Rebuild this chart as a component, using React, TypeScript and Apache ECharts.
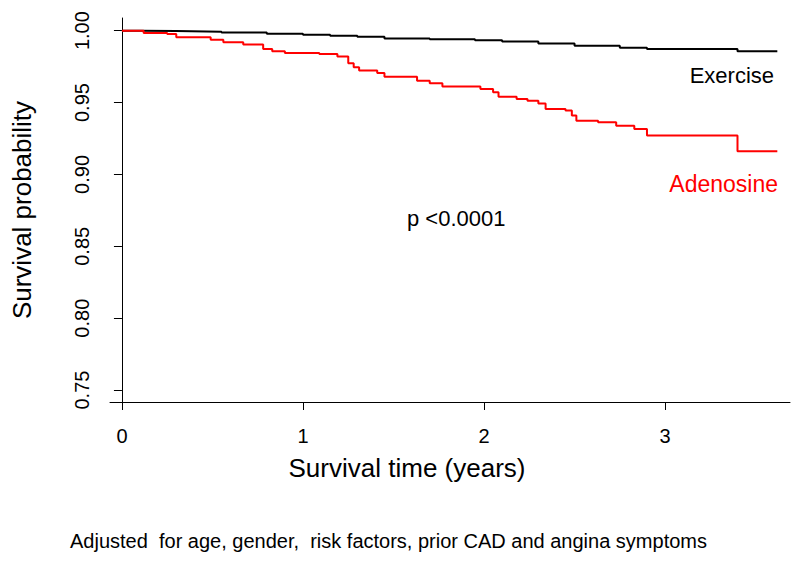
import React, { useEffect, useRef } from "react";
import * as echarts from "echarts";

const xTickValues = [0, 1, 2, 3];
const yTickValues = [0.75, 0.8, 0.85, 0.9, 0.95, 1.0];

const exerciseTime = [0, 0.1, 0.3, 0.55, 0.8, 1.0, 1.15, 1.3, 1.45, 1.7, 1.95, 2.1, 2.3, 2.5, 2.75, 2.9, 3.4, 3.62];
const exerciseSurv = [1.0, 0.9997, 0.9993, 0.9987, 0.9978, 0.9972, 0.9965, 0.9957, 0.9945, 0.994, 0.9934, 0.9924, 0.991, 0.9895, 0.9881, 0.9873, 0.9856, 0.9856];

const adenosineTime = [0, 0.12, 0.25, 0.3, 0.49, 0.56, 0.67, 0.78, 0.83, 0.9, 1.09, 1.19, 1.25, 1.28, 1.31, 1.41, 1.45, 1.63, 1.7, 1.77, 1.98, 2.05, 2.08, 2.18, 2.24, 2.3, 2.34, 2.45, 2.485, 2.51, 2.63, 2.73, 2.83, 2.9, 3.4, 3.62];
const adenosineSurv = [1.0, 0.9984, 0.9977, 0.9954, 0.9937, 0.9919, 0.9903, 0.9873, 0.9856, 0.9845, 0.9838, 0.9821, 0.9773, 0.9745, 0.9722, 0.9706, 0.968, 0.9652, 0.9634, 0.9611, 0.9594, 0.9571, 0.9541, 0.9525, 0.9513, 0.9494, 0.9455, 0.9444, 0.9409, 0.9374, 0.9362, 0.9339, 0.9316, 0.927, 0.9161, 0.9161];

const xTitle = "Survival time (years)";
const yTitle = "Survival probability";
const pText = "p <0.0001";
const footnote = "Adjusted  for age, gender,  risk factors, prior CAD and angina symptoms";

const FONT = '"Liberation Sans", Arial, sans-serif';

export default function App() {
  const ref = useRef<HTMLDivElement>(null);
  useEffect(() => {
    if (!ref.current) return;
    const chart = echarts.init(ref.current, null, { renderer: "svg" });
    const zip = (t: number[], v: number[]) => t.map((x, i) => [x, v[i]]);
    chart.setOption({
      animation: false,
      backgroundColor: "#ffffff",
      textStyle: { fontFamily: FONT },
      grid: { left: 110, right: 10, top: 18, bottom: 159, containLabel: false },
      xAxis: {
        type: "value",
        min: -0.066,
        max: 3.69,
        axisLine: { show: true, lineStyle: { color: "#000", width: 1 } },
        axisTick: { show: true, length: 8, inside: false, customValues: xTickValues, lineStyle: { color: "#000" } },
        axisLabel: { show: true, customValues: xTickValues, fontSize: 20, margin: 24, color: "#000", fontFamily: FONT },
        splitLine: { show: false },
      },
      yAxis: {
        type: "value",
        min: 0.7417,
        max: 1.0088,
        axisLine: { show: true, lineStyle: { color: "#000", width: 1 } },
        axisTick: { show: true, length: 8, inside: false, customValues: yTickValues, lineStyle: { color: "#000" } },
        axisLabel: {
          show: true,
          customValues: yTickValues,
          rotate: 90,
          fontSize: 20,
          margin: 18,
          color: "#000",
          fontFamily: FONT,
          formatter: (v: number) => v.toFixed(2),
        },
        splitLine: { show: false },
      },
      series: [
        {
          name: "Exercise",
          type: "line",
          step: "end",
          showSymbol: false,
          data: zip(exerciseTime, exerciseSurv),
          lineStyle: { color: "#000000", width: 2 },
          itemStyle: { color: "#000000" },
          z: 2,
        },
        {
          name: "Adenosine",
          type: "line",
          step: "end",
          showSymbol: false,
          data: zip(adenosineTime, adenosineSurv),
          lineStyle: { color: "#ff0000", width: 2 },
          itemStyle: { color: "#ff0000" },
          z: 3,
        },
      ],
      graphic: [
        { type: "text", x: 774, y: 75, style: { text: "Exercise", fontSize: 22, fontFamily: FONT, fill: "#000", align: "right", verticalAlign: "middle" } },
        { type: "text", x: 778, y: 184, style: { text: "Adenosine", fontSize: 23, fontFamily: FONT, fill: "#ff0000", align: "right", verticalAlign: "middle" } },
        { type: "text", x: 407, y: 218, style: { text: pText, fontSize: 22, fontFamily: FONT, fill: "#000", align: "left", verticalAlign: "middle" } },
        { type: "text", x: 407, y: 468, style: { text: xTitle, fontSize: 26, fontFamily: FONT, fill: "#000", align: "center", verticalAlign: "middle" } },
        { type: "text", x: 22, y: 210, rotation: Math.PI / 2, style: { text: yTitle, fontSize: 26, fontFamily: FONT, fill: "#000", align: "center", verticalAlign: "middle" } },
        { type: "text", x: 70, y: 541, style: { text: footnote, fontSize: 20, fontFamily: FONT, fill: "#000", align: "left", verticalAlign: "middle" } },
      ],
    });
    return () => chart.dispose();
  }, []);
  return <div ref={ref} style={{ position: "fixed", left: 0, top: 0, width: 800, height: 561 }} />;
}
